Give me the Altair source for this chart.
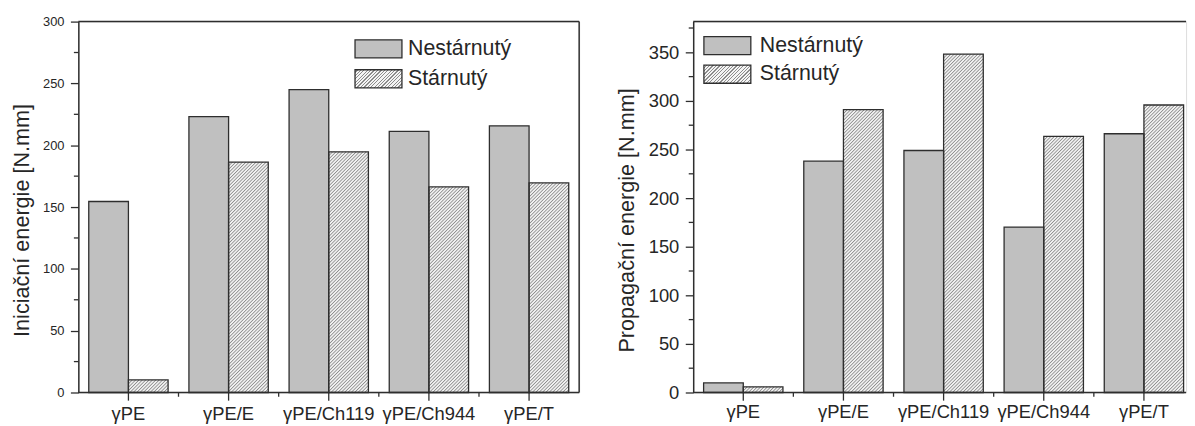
import base64
import altair as alt
import pandas as pd

# ---------------- data ----------------
categories = ["γPE", "γPE/E", "γPE/Ch119", "γPE/Ch944", "γPE/T"]
series = ["Nestárnutý", "Stárnutý"]

init_nest = [154.5, 223.2, 245.0, 211.2, 215.7]
init_star = [10.2, 186.4, 194.7, 166.3, 169.5]
prop_nest = [9.8, 238.0, 249.0, 170.2, 266.2]
prop_star = [5.8, 291.0, 348.2, 263.5, 295.8]

init_ticks = [0, 50, 100, 150, 200, 250, 300]
init_minor = [25, 75, 125, 175, 225, 275]
prop_ticks = [0, 50, 100, 150, 200, 250, 300, 350]
prop_minor = [25, 75, 125, 175, 225, 275, 325, 375]

init_title = "Iniciační energie [N.mm]"
prop_title = "Propagační energie [N.mm]"

# ---------------- style ----------------
FONT = "Liberation Sans"
DARK = "#2e2e2e"
TXT = "#262626"
GREY = "#c0c0c0"
HATCH_BG = "#f4f4f4"
HATCH_LINE = "#8c8c8c"

hatch_svg = (
    '<svg xmlns="http://www.w3.org/2000/svg" width="100%" height="100%">'
    '<defs><pattern id="h" patternUnits="userSpaceOnUse" width="2.4" height="2.4" '
    'patternTransform="rotate(45)">'
    f'<rect width="2.4" height="2.4" fill="{HATCH_BG}"/>'
    f'<rect width="0.85" height="2.4" fill="{HATCH_LINE}"/>'
    '</pattern></defs>'
    '<rect width="100%" height="100%" fill="url(#h)"/></svg>'
)
HATCH_URL = "data:image/svg+xml;base64," + base64.b64encode(hatch_svg.encode()).decode()

# striped gradient used by the legend swatch
N_STRIPES = 19
stops = []
for k in range(N_STRIPES):
    a = k / N_STRIPES
    b = (k + 0.64) / N_STRIPES
    c = (k + 1) / N_STRIPES
    stops += [
        {"offset": a, "color": HATCH_BG},
        {"offset": b, "color": HATCH_BG},
        {"offset": b, "color": HATCH_LINE},
        {"offset": c, "color": HATCH_LINE},
    ]
legend_gradient = {
    "gradient": "linear", "id": "hatchLegend",
    "x1": 0, "y1": 0, "x2": 1.2, "y2": 0.464, "stops": stops,
}

SWATCH = "M-2.49,-0.963H2.49V0.963H-2.49Z"
H = 374
LEFT_MARGIN = 77.7


def panel(nest, star, ymax, ticks, minor, W, xrange, title, yfs, xfs,
          title_x, xlab_pad, leg_x, leg_y, leg_off, leg_row, is_left):
    df = pd.DataFrame({
        "cat": categories * 2,
        "series": [series[0]] * len(categories) + [series[1]] * len(categories),
        "value": nest + star,
    })
    xs = dict(domain=categories, paddingInner=0, paddingOuter=0)
    if xrange is not None:
        xs["range"] = xrange
    xaxis = alt.Axis(title=None, labelAngle=0, labelFontSize=xfs, labelFont=FONT,
                     labelColor=TXT, labelBaseline="alphabetic", labelPadding=xlab_pad,
                     tickSize=7.7, tickWidth=1.3, tickColor=DARK, domain=False,
                     labelLimit=0)
    x = alt.X("cat:N", scale=alt.Scale(**xs), sort=categories, axis=xaxis)
    xo = alt.XOffset("series:N", scale=alt.Scale(domain=series, paddingInner=0,
                                                  paddingOuter=0.2625))
    yaxis = alt.Axis(values=ticks, title=title, titleFontSize=21.8, titleFont=FONT,
                     titleFontWeight="normal", titleColor=TXT, titleAngle=270,
                     titleBaseline="alphabetic", titleAlign="center",
                     titleX=title_x, titleY=200,
                     labelFontSize=yfs, labelFont=FONT, labelColor=TXT, labelPadding=6.5,
                     tickSize=8, tickWidth=1.3, tickColor=DARK,
                     domainColor=DARK, domainWidth=1.5, grid=False)
    y = alt.Y("value:Q", scale=alt.Scale(domain=[0, ymax], nice=False, zero=True),
              axis=yaxis)

    base = alt.Chart(df)
    fill_layer = base.mark_bar(strokeWidth=0).encode(
        x=x, xOffset=xo, y=y,
        fill=alt.Fill("series:N",
                      scale=alt.Scale(domain=series, range=[GREY, "url(#hatchLegend)"]),
                      legend=alt.Legend(orient="none", legendX=leg_x, legendY=leg_y,
                                        title=None, symbolType=SWATCH, symbolSize=361,
                                        symbolStrokeColor=DARK, symbolStrokeWidth=1.3,
                                        symbolOpacity=1, labelFontSize=21.5,
                                        labelFont=FONT, labelColor=TXT,
                                        labelOffset=leg_off, rowPadding=leg_row,
                                        padding=0, labelLimit=0)),
    )
    hatch_layer = base.transform_filter(alt.datum.series == series[1]).mark_image(
        aspect=False).encode(
        x=x, xOffset=xo, y=y, y2=alt.Y2(datum=0), url=alt.value(HATCH_URL))
    outline_layer = base.mark_bar(fill=legend_gradient, fillOpacity=0, stroke=DARK,
                                  strokeWidth=1.3).encode(x=x, xOffset=xo, y=y)

    yminor = alt.Chart(pd.DataFrame({"value": minor})).mark_rule(
        color=DARK, strokeWidth=1.3).encode(y=y, x=alt.value(-4.5), x2=alt.value(0))
    xminor = alt.Chart(pd.DataFrame({"cat": categories[1:]})).mark_rule(
        color=DARK, strokeWidth=1.3).encode(
        x=alt.X("cat:N", scale=alt.Scale(**xs), sort=categories, axis=xaxis,
                bandPosition=0),
        y=alt.value(H), y2=alt.value(H + 4.3))
    one = pd.DataFrame({"k": [0]})
    top = alt.Chart(one).mark_rule(color=DARK, strokeWidth=1.5).encode(
        x=alt.value(0), x2=alt.value(W), y=alt.value(0))
    bottom = alt.Chart(one).mark_rule(color=DARK, strokeWidth=1.5).encode(
        x=alt.value(0), x2=alt.value(W), y=alt.value(H))
    layers = [fill_layer, hatch_layer, outline_layer, yminor, xminor, top, bottom]
    if is_left:
        layers.append(alt.Chart(one).mark_rule(color=DARK, strokeWidth=1.5).encode(
            x=alt.value(W), y=alt.value(0), y2=alt.value(H)))
        # invisible spacer fixing the left margin of the figure
        layers.append(alt.Chart(one).mark_rule(opacity=0).encode(
            x=alt.value(-LEFT_MARGIN), y=alt.value(0), y2=alt.value(H)))
    return alt.layer(*layers).properties(width=W, height=H)


left = panel(init_nest, init_star, 300, init_ticks, init_minor, 505, None, init_title,
             13, 18.5, -50.1, 20, 291.9, 16.75, 19.0, 6.2, True)
right = panel(prop_nest, prop_star, 381.6, prop_ticks, prop_minor, 497, [0, 505],
              prop_title, 18.5, 18.5, -59.7, 17.5, 23.7, 13.45, 22.0, 4.8, False)

chart = (
    alt.hconcat(left, right, spacing=115, bounds="flush")
    .resolve_scale(fill="independent")
    .resolve_legend(fill="independent")
    .properties(padding={"left": 0, "top": 13, "right": 0, "bottom": 0})
    .configure_view(stroke=None)
    .configure(background="white")
)

chart.save("out.html", embed_options={"renderer": "svg", "actions": False})
